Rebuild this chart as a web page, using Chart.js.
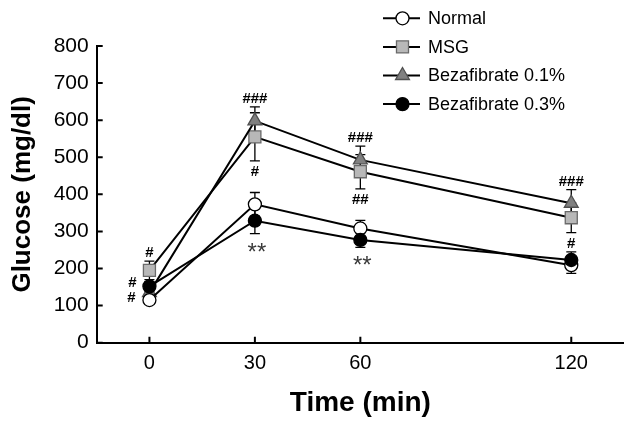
<!DOCTYPE html>
<html lang="en">
<head>
  <meta charset="UTF-8" />
  <title>Glucose tolerance</title>
  <script src="https://cdn.jsdelivr.net/npm/chart.js"></script>
  <style>
    body { margin: 0; background: #fff; }
    canvas { display: block; }
  </style>
</head>
<body>
  <canvas id="grafico" width="624" height="421"></canvas>

  <script>
    // dados
    const times = [0, 30, 60, 120];
    const xTicks = [0, 30, 60, 120];

    const normal = [115, 373, 308, 209];
    const normalErr = [10, 32, 22, 22];
    const msg = [195, 555, 461, 337];
    const msgErr = [25, 65, 46, 40];
    const beza01 = [135, 598, 493, 376];
    const beza01Err = [12, 38, 37, 37];
    const beza03 = [152, 329, 277, 223];
    const beza03Err = [12, 35, 20, 22];

    const seriesNames = ['Normal', 'MSG', 'Bezafibrate 0.1%', 'Bezafibrate 0.3%'];

    // marcas de significancia: serie, ponto, texto, lado
    const notes = [
      { set: 1, at: 0, text: '#', side: 'above' },
      { set: 3, at: 0, text: '#', side: 'left-top' },
      { set: 2, at: 0, text: '#', side: 'left-bottom' },
      { set: 2, at: 1, text: '###', side: 'above' },
      { set: 1, at: 1, text: '#', side: 'below' },
      { set: 3, at: 1, text: '**', side: 'below' },
      { set: 2, at: 2, text: '###', side: 'above' },
      { set: 1, at: 2, text: '##', side: 'below' },
      { set: 3, at: 2, text: '**', side: 'below' },
      { set: 2, at: 3, text: '###', side: 'above' },
      { set: 1, at: 3, text: '#', side: 'below' }
    ];

    const FONT = "'Liberation Sans', Arial, Helvetica, sans-serif";
    Chart.defaults.font.family = FONT;
    Chart.defaults.color = '#000';

    function pontos(vals) {
      return vals.map((v, i) => ({ x: times[i], y: v }));
    }

    function serie(label, vals, errs, estilo, ordem) {
      return Object.assign({
        label: label,
        data: pontos(vals),
        errors: errs,
        borderColor: '#000',
        borderWidth: 2,
        tension: 0,
        order: ordem,
        pointBorderWidth: 1.3,
        pointHoverRadius: 0,
        clip: false
      }, estilo);
    }

    const datasets = [
      serie(seriesNames[0], normal, normalErr, {
        pointStyle: 'circle', pointRadius: 6.5,
        pointBackgroundColor: '#fff', pointBorderColor: '#000'
      }, 1),
      serie(seriesNames[1], msg, msgErr, {
        pointStyle: 'rect', pointRadius: 8.5,
        pointBackgroundColor: '#b8b8b8', pointBorderColor: '#6a6a6a'
      }, 3),
      serie(seriesNames[2], beza01, beza01Err, {
        pointStyle: 'triangle', pointRadius: 8,
        pointBackgroundColor: '#808080', pointBorderColor: '#505050'
      }, 2),
      serie(seriesNames[3], beza03, beza03Err, {
        pointStyle: 'circle', pointRadius: 6.5,
        pointBackgroundColor: '#000', pointBorderColor: '#000'
      }, 0)
    ];

    // barras de erro por baixo dos marcadores
    const barrasErro = {
      id: 'barrasErro',
      beforeDatasetsDraw(chart) {
        const ctx = chart.ctx;
        const xs = chart.scales.x, ys = chart.scales.y;
        ctx.save();
        ctx.strokeStyle = '#000';
        ctx.lineWidth = 1.3;
        chart.data.datasets.forEach(ds => {
          ds.data.forEach((p, j) => {
            const e = ds.errors[j];
            const x = xs.getPixelForValue(p.x);
            const y1 = ys.getPixelForValue(p.y + e);
            const y2 = ys.getPixelForValue(p.y - e);
            ctx.beginPath();
            ctx.moveTo(x, y1); ctx.lineTo(x, y2);
            ctx.moveTo(x - 5, y1); ctx.lineTo(x + 5, y1);
            ctx.moveTo(x - 5, y2); ctx.lineTo(x + 5, y2);
            ctx.stroke();
          });
        });
        ctx.restore();
      }
    };

    // ticks para dentro, marcas # e *, legenda
    const extras = {
      id: 'extras',
      afterDraw(chart) {
        const ctx = chart.ctx;
        const xs = chart.scales.x, ys = chart.scales.y;
        const area = chart.chartArea;
        ctx.save();

        ctx.strokeStyle = '#000';
        ctx.lineWidth = 2;
        ctx.beginPath();
        ys.ticks.forEach(t => {
          const y = ys.getPixelForValue(t.value);
          ctx.moveTo(area.left, y); ctx.lineTo(area.left + 6, y);
        });
        xs.ticks.forEach(t => {
          const x = xs.getPixelForValue(t.value);
          ctx.moveTo(x, area.bottom); ctx.lineTo(x, area.bottom - 6);
        });
        ctx.stroke();

        ctx.textAlign = 'center';
        ctx.textBaseline = 'alphabetic';
        notes.forEach(n => {
          const ds = chart.data.datasets[n.set];
          const p = ds.data[n.at];
          const e = ds.errors[n.at];
          const estrela = n.text.indexOf('*') >= 0;
          ctx.font = estrela ? '24px ' + FONT : 'bold 15px ' + FONT;
          ctx.fillStyle = estrela ? '#3a3a3a' : '#000';
          const m = ctx.measureText(n.text);
          const asc = m.actualBoundingBoxAscent, desc = m.actualBoundingBoxDescent;
          const h = asc + desc;
          let x = xs.getPixelForValue(p.x);
          let cy;
          if (n.side === 'above') {
            cy = ys.getPixelForValue(p.y + e) - 4 - h / 2;
          } else if (n.side === 'below') {
            cy = ys.getPixelForValue(p.y - e) + (estrela ? 9 : 5) + h / 2;
            if (estrela) x += 2;
          } else if (n.side === 'left-top') {
            x -= 17;
            cy = ys.getPixelForValue(p.y + e);
          } else {
            x -= 18;
            cy = ys.getPixelForValue(p.y - e);
          }
          ctx.fillText(n.text, x, cy + (asc - desc) / 2);
        });

        // legenda
        const lx = 383, lw = 37, ly = 18.3, gap = 28.6;
        chart.data.datasets.forEach((ds, i) => {
          const y = ly + i * gap;
          ctx.strokeStyle = '#000';
          ctx.lineWidth = 2;
          ctx.beginPath();
          ctx.moveTo(lx, y); ctx.lineTo(lx + lw, y);
          ctx.stroke();
          ctx.fillStyle = ds.pointBackgroundColor;
          ctx.strokeStyle = ds.pointBorderColor;
          ctx.lineWidth = ds.pointBorderWidth;
          Chart.helpers.drawPoint(ctx, {
            pointStyle: ds.pointStyle, radius: ds.pointRadius,
            rotation: 0, borderWidth: ds.pointBorderWidth
          }, lx + lw / 2 + 1, y);
          ctx.fillStyle = '#000';
          ctx.font = '18px ' + FONT;
          ctx.textAlign = 'left';
          ctx.textBaseline = 'middle';
          ctx.fillText(ds.label, 428, y + 1);
        });
        ctx.restore();
      }
    };

    new Chart(document.getElementById('grafico').getContext('2d'), {
      type: 'line',
      data: { datasets: datasets },
      plugins: [barrasErro, extras],
      options: {
        responsive: false,
        devicePixelRatio: 1,
        animation: false,
        layout: { autoPadding: false, padding: { top: 46, left: 0, right: 0, bottom: 0 } },
        plugins: { legend: { display: false }, tooltip: { enabled: false } },
        scales: {
          x: {
            type: 'linear',
            min: -15,
            max: 135,
            grid: { display: false, drawTicks: false },
            border: { display: true, color: '#000', width: 2 },
            afterBuildTicks: s => { s.ticks = xTicks.map(v => ({ value: v })); },
            afterFit: s => { s.height = 78.3; s.paddingLeft = 0; s.paddingRight = 0; },
            ticks: { font: { size: 20 }, color: '#000', padding: 9, maxRotation: 0, autoSkip: false },
            title: {
              display: true, text: 'Time (min)', color: '#000',
              font: { size: 28, weight: 'bold' }, padding: { top: 0, bottom: 1 }
            }
          },
          y: {
            min: 0,
            max: 800,
            grid: { display: false, drawTicks: false },
            border: { display: true, color: '#000', width: 2 },
            afterFit: s => { s.width = 96.7; s.paddingTop = 0; s.paddingBottom = 0; },
            ticks: { stepSize: 100, font: { size: 21 }, color: '#000', padding: 8 },
            title: {
              display: true, text: 'Glucose (mg/dl)', color: '#000',
              font: { size: 26, weight: 'bold' }, padding: { top: 7, bottom: 0 }
            }
          }
        }
      }
    });
  </script>
</body>
</html>
